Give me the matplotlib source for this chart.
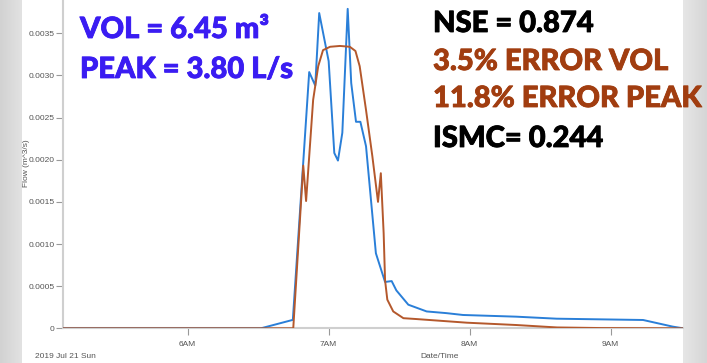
import matplotlib
matplotlib.use("Agg")
import matplotlib.pyplot as plt
import matplotlib.patheffects as pe
import numpy as np

# ---- data (time in decimal hours, flow in m^3/s) ----
obs_t = [5.116, 6.52, 6.746, 6.862, 6.905, 6.933, 7.0, 7.04, 7.066, 7.097, 7.135,
         7.16, 7.194, 7.225, 7.265, 7.335, 7.40, 7.447, 7.48, 7.565, 7.695, 7.835,
         7.953, 8.33, 8.617, 9.23, 9.44, 9.513]
obs_q = [0.0, 0.0, 0.0001, 0.00304, 0.00288, 0.00374, 0.00317, 0.00208, 0.00199,
         0.00232, 0.00379, 0.00291, 0.00245, 0.00245, 0.00216, 0.00089, 0.00055,
         0.00056, 0.00045, 0.00028, 0.00020, 0.00018, 0.000158, 0.000138, 0.000114,
         0.0000986, 0.00002, 0.0]

sim_t = [5.116, 6.749, 6.82, 6.84, 6.89, 6.926, 6.96, 7.01, 7.08, 7.15, 7.19, 7.22,
         7.265, 7.31, 7.35, 7.37, 7.39, 7.40, 7.416, 7.458, 7.53, 7.62, 7.98, 8.33,
         8.62, 8.93, 9.513]
sim_q = [0.0, 0.0, 0.00193, 0.00151, 0.00271, 0.00311, 0.00330, 0.00334, 0.00335,
         0.00334, 0.00329, 0.00311, 0.00259, 0.00204, 0.00150, 0.00184, 0.00113,
         0.00057, 0.00034, 0.00020, 0.00012, 0.00011, 0.0000665, 0.000039, 0.00001,
         0.000003, 0.0]

yticks = [0, 0.0005, 0.0010, 0.0015, 0.0020, 0.0025, 0.0030, 0.0035]
ytick_labels = ["0", "0.0005", "0.0010", "0.0015", "0.0020", "0.0025", "0.0030", "0.0035"]
xticks = [6, 7, 8, 9]
xtick_labels = ["6AM", "7AM", "8AM", "9AM"]

left_texts = ["VOL = 6.45 m³", "PEAK = 3.80 L/s"]
right_texts = ["NSE = 0.874", "3.5% ERROR VOL", "11.8% ERROR PEAK", "ISMC= 0.244"]
right_colors = ["#000000", "#a13d10", "#a13d10", "#000000"]

W, H = 707, 363
fig = plt.figure(figsize=(W / 100, H / 100), dpi=100)
fig.patch.set_facecolor("white")

def fx(px):
    return px / W

def fy(py):
    return 1 - py / H

# side grey strips
grad = np.linspace(0, 1, 50).reshape(1, -1)
axl = fig.add_axes([0, 0, fx(22), 1], zorder=-5)
axl.imshow(grad, aspect="auto", cmap=matplotlib.colors.LinearSegmentedColormap.from_list("g", ["#d2d2d2", "#e2e2e2"]))
axl.axis("off")
axr = fig.add_axes([fx(683), 0, fx(W - 683), 1], zorder=-5)
axr.imshow(grad, aspect="auto", cmap=matplotlib.colors.LinearSegmentedColormap.from_list("g2", ["#e6e6e6", "#d6d6d6"]))
axr.axis("off")

ax = fig.add_axes([fx(63), fy(328.3), fx(683) - fx(63), fy(0) - fy(328.3)])
ax.set_facecolor("white")
ax.plot(obs_t, obs_q, color="#2a7fd8", lw=1.4, zorder=3)
ax.plot(sim_t, sim_q, color="#b4582c", lw=1.4, zorder=4)
ax.set_xlim(5.116, 9.513)
ax.set_ylim(0, 0.003895)

for s in ["top", "right"]:
    ax.spines[s].set_visible(False)
for s in ["left", "bottom"]:
    ax.spines[s].set_color("#cfcfcf")
    ax.spines[s].set_linewidth(1.5)

tickfont = dict(family=["Liberation Sans Narrow", "Liberation Sans", "DejaVu Sans"], size=6.0)
ax.set_yticks(yticks)
ax.set_yticklabels(ytick_labels, color="#555555", **tickfont)
ax.set_xticks(xticks)
ax.set_xticklabels(xtick_labels, color="#555555", **tickfont)
ax.tick_params(axis="both", colors="#999999", length=5, width=0.8)
ax.tick_params(axis="y", pad=1, labelcolor="#555555")
ax.tick_params(axis="x", pad=4, labelcolor="#555555")

fig.text(fx(26), fy(163), "Flow (m^3/s)", rotation=90, ha="center", va="center",
         color="#555555", **tickfont)
fig.text(fx(35), fy(357), "2019 Jul 21 Sun", ha="left", va="center", color="#555555", **tickfont)
fig.text(fx(440), fy(357), "Date/Time", ha="center", va="center", color="#555555", **tickfont)

bigfont = dict(family=["Lato", "DejaVu Sans"], weight="black", size=21)
for i, t in enumerate(left_texts):
    fig.text(fx(80), fy([30, 70][i]), t, ha="left", va="center", color="#3a1cf2", zorder=10,
             path_effects=[pe.withStroke(linewidth=0.6, foreground="#3a1cf2")], **bigfont)
for i, t in enumerate(right_texts):
    fig.text(fx(433), fy([24, 62, 99, 139][i]), t, ha="left", va="center",
             color=right_colors[i], zorder=10,
             path_effects=[pe.withStroke(linewidth=0.6, foreground=right_colors[i])], **bigfont)

fig.savefig("out.png", dpi=100)
